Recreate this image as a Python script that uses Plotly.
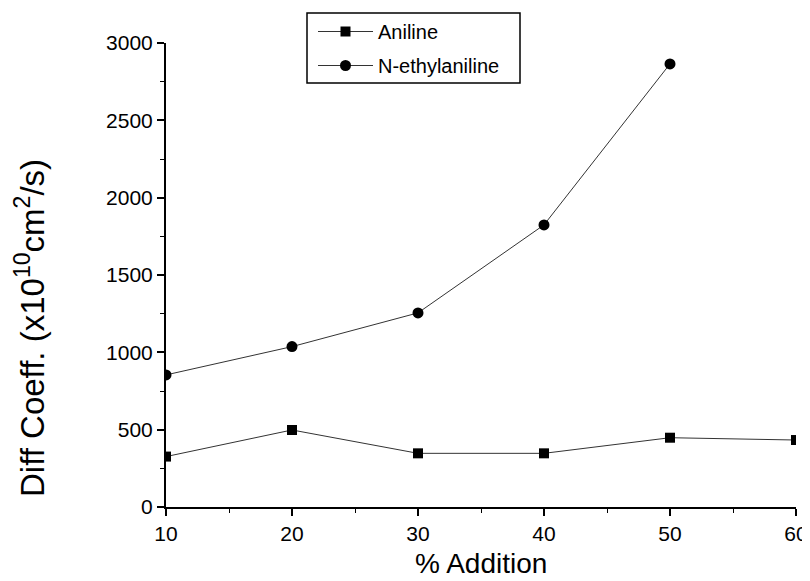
import plotly.graph_objects as go

addition = [10, 20, 30, 40, 50, 60]
aniline = [326, 498, 347, 347, 448, 433]
addition_ne = [10, 20, 30, 40, 50]
n_ethylaniline = [854, 1037, 1255, 1824, 2865]

font = "Liberation Sans, Arial, sans-serif"

fig = go.Figure()
fig.add_trace(go.Scatter(
    x=addition, y=aniline, name="Aniline", mode="lines+markers",
    legendgroup="a",
    line=dict(color="#333333", width=1),
    marker=dict(symbol="square", size=10, color="black"),
))
fig.add_trace(go.Scatter(
    x=addition_ne, y=n_ethylaniline, name="N-ethylaniline", mode="lines+markers",
    legendgroup="b",
    line=dict(color="#333333", width=1),
    marker=dict(symbol="circle", size=11, color="black"),
))

# page has an 8px body margin; figure drawn at (8, 8)
W, H = 802, 573
OFF = 8
L, R, T, B = 166 - OFF, 14, 43 - OFF, 74
pw = W - L - R
ph = H - T - B


def px_x(page_x):
    return (page_x - OFF - L) / pw


def px_y(page_y):
    return (T + ph - (page_y - OFF)) / ph


fig.update_layout(
    width=W, height=H,
    margin=dict(l=L, r=R, t=T, b=B, autoexpand=False),
    paper_bgcolor="white", plot_bgcolor="white",
    font=dict(family=font, size=21, color="black"),
    showlegend=True,
    legend=dict(
        x=px_x(313), y=px_y(12), xanchor="left", yanchor="top",
        borderwidth=0, bgcolor="rgba(0,0,0,0)",
        font=dict(size=20, family=font),
        traceorder="grouped", tracegroupgap=5,
        itemwidth=55,
    ),
    shapes=[
        dict(type="rect", xref="paper", yref="paper",
             x0=px_x(307), x1=px_x(520), y0=px_y(83), y1=px_y(13),
             line=dict(color="black", width=1.5), fillcolor="white", layer="below"),
    ],
    xaxis=dict(
        range=[10, 60], tickvals=[10, 20, 30, 40, 50, 60],
        showgrid=False, zeroline=False, automargin=False,
        showline=True, linecolor="black", linewidth=2,
        ticks="outside", ticklen=7, tickwidth=1.5, tickcolor="black",
        minor=dict(ticks="outside", ticklen=4, tickwidth=1, tickcolor="black", dtick=5),
        tickfont=dict(size=21),
    ),
    yaxis=dict(
        range=[0, 3000], tickvals=[0, 500, 1000, 1500, 2000, 2500, 3000],
        showgrid=False, zeroline=False, automargin=False,
        showline=True, linecolor="black", linewidth=2,
        ticks="outside", ticklen=7, tickwidth=1.5, tickcolor="black",
        minor=dict(ticks="outside", ticklen=4, tickwidth=1, tickcolor="black", dtick=250),
        tickfont=dict(size=21),
    ),
    annotations=[
        dict(text="% Addition", xref="paper", yref="paper",
             x=px_x(481), y=-B / ph,
             xanchor="center", yanchor="bottom", showarrow=False,
             font=dict(size=28, family=font)),
        dict(text="Diff Coeff. (x10<sup>10</sup>cm<sup>2</sup>/s)", xref="paper", yref="paper",
             x=px_x(30), y=px_y(328), textangle=-90,
             xanchor="center", yanchor="middle", showarrow=False,
             font=dict(size=33, family=font)),
    ],
)

fig.write_html("out.html")
